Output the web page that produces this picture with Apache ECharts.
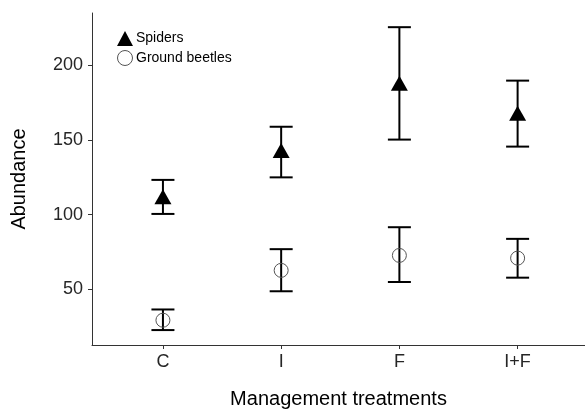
<!DOCTYPE html>
<html>
<head>
<meta charset="utf-8">
<script src="https://cdn.jsdelivr.net/npm/echarts@6/dist/echarts.min.js"></script>
<style>html,body{margin:0;padding:0;background:#fff}#c{width:585px;height:414px}</style>
</head>
<body>
<div id="c"></div>
<script>
var categories = ['C', 'I', 'F', 'I+F'];
var spiderMean = [112, 143, 188, 168];
var spiderLow = [100.5, 125, 150.3, 145.6];
var spiderHigh = [123.3, 158.9, 225.6, 189.8];
var beetleMean = [29.3, 62.7, 72.7, 70.9];
var beetleLow = [22.7, 48.7, 54.9, 57.8];
var beetleHigh = [36.5, 76.9, 91.6, 83.8];
var yTicks = [50, 100, 150, 200];
var xTicks = [1, 2, 3, 4];

function pts(means) { return means.map(function (v, i) { return [i + 1, v]; }); }
function bars(lo, hi) { return lo.map(function (v, i) { return [i + 1, v, hi[i]]; }); }

function errRender(params, api) {
  var x = api.value(0);
  var lo = api.coord([x, api.value(1)]);
  var hi = api.coord([x, api.value(2)]);
  var hw = 11.5;
  var st = { stroke: '#000', lineWidth: 2 };
  return {
    type: 'group',
    children: [
      { type: 'line', shape: { x1: lo[0], y1: lo[1], x2: hi[0], y2: hi[1] }, style: st },
      { type: 'line', shape: { x1: lo[0] - hw, y1: lo[1], x2: lo[0] + hw, y2: lo[1] }, style: st },
      { type: 'line', shape: { x1: hi[0] - hw, y1: hi[1], x2: hi[0] + hw, y2: hi[1] }, style: st }
    ]
  };
}

var FF = 'Liberation Sans, Arial, sans-serif';
var chart = echarts.init(document.getElementById('c'), null, { renderer: 'canvas' });
chart.setOption({
  animation: false,
  backgroundColor: '#fff',
  grid: { left: 92, right: 0, top: 13, bottom: 67, containLabel: false },
  legend: {
    data: ['Spiders', 'Ground beetles'],
    orient: 'vertical',
    left: 117, top: 31,
    itemWidth: 16, itemHeight: 15, itemGap: 4, padding: 0,
    itemStyle: { borderWidth: 1 },
    textStyle: { fontFamily: FF, fontSize: 14, color: '#000', padding: [7, 0, 0, -2] }
  },
  xAxis: {
    type: 'value', min: 0.4, max: 4.57,
    name: 'Management treatments', nameLocation: 'middle', nameGap: 44,
    nameTextStyle: { fontFamily: FF, fontSize: 20, color: '#000' },
    axisLine: { show: true, lineStyle: { color: '#333', width: 1 } },
    axisTick: { show: true, customValues: xTicks, length: 4, lineStyle: { color: '#333' } },
    axisLabel: {
      customValues: xTicks, margin: 8,
      formatter: function (v) { return categories[Math.round(v) - 1] || ''; },
      fontFamily: FF, fontSize: 18, color: '#262626'
    },
    splitLine: { show: false }
  },
  yAxis: {
    type: 'value', min: 12.7, max: 235.1,
    name: 'Abundance', nameLocation: 'middle', nameGap: 63, nameRotate: 90,
    nameTextStyle: { fontFamily: FF, fontSize: 20, color: '#000' },
    axisLine: { show: true, lineStyle: { color: '#333', width: 1 } },
    axisTick: { show: true, customValues: yTicks, length: 4, lineStyle: { color: '#333' } },
    axisLabel: {
      customValues: yTicks, margin: 9,
      fontFamily: FF, fontSize: 18, color: '#262626'
    },
    splitLine: { show: false }
  },
  series: [
    { type: 'custom', name: 'errS', data: bars(spiderLow, spiderHigh), renderItem: errRender, z: 1 },
    { type: 'custom', name: 'errB', data: bars(beetleLow, beetleHigh), renderItem: errRender, z: 1 },
    {
      type: 'scatter', name: 'Spiders', data: pts(spiderMean), symbol: 'triangle', symbolSize: [17, 15],
      itemStyle: { color: '#000', opacity: 1 }, z: 3
    },
    {
      type: 'scatter', name: 'Ground beetles', data: pts(beetleMean), symbol: 'circle', symbolSize: 14,
      itemStyle: { color: 'rgba(0,0,0,0)', borderColor: '#555', borderWidth: 1, opacity: 1 }, z: 3
    }
  ]
});
</script>
</body>
</html>
